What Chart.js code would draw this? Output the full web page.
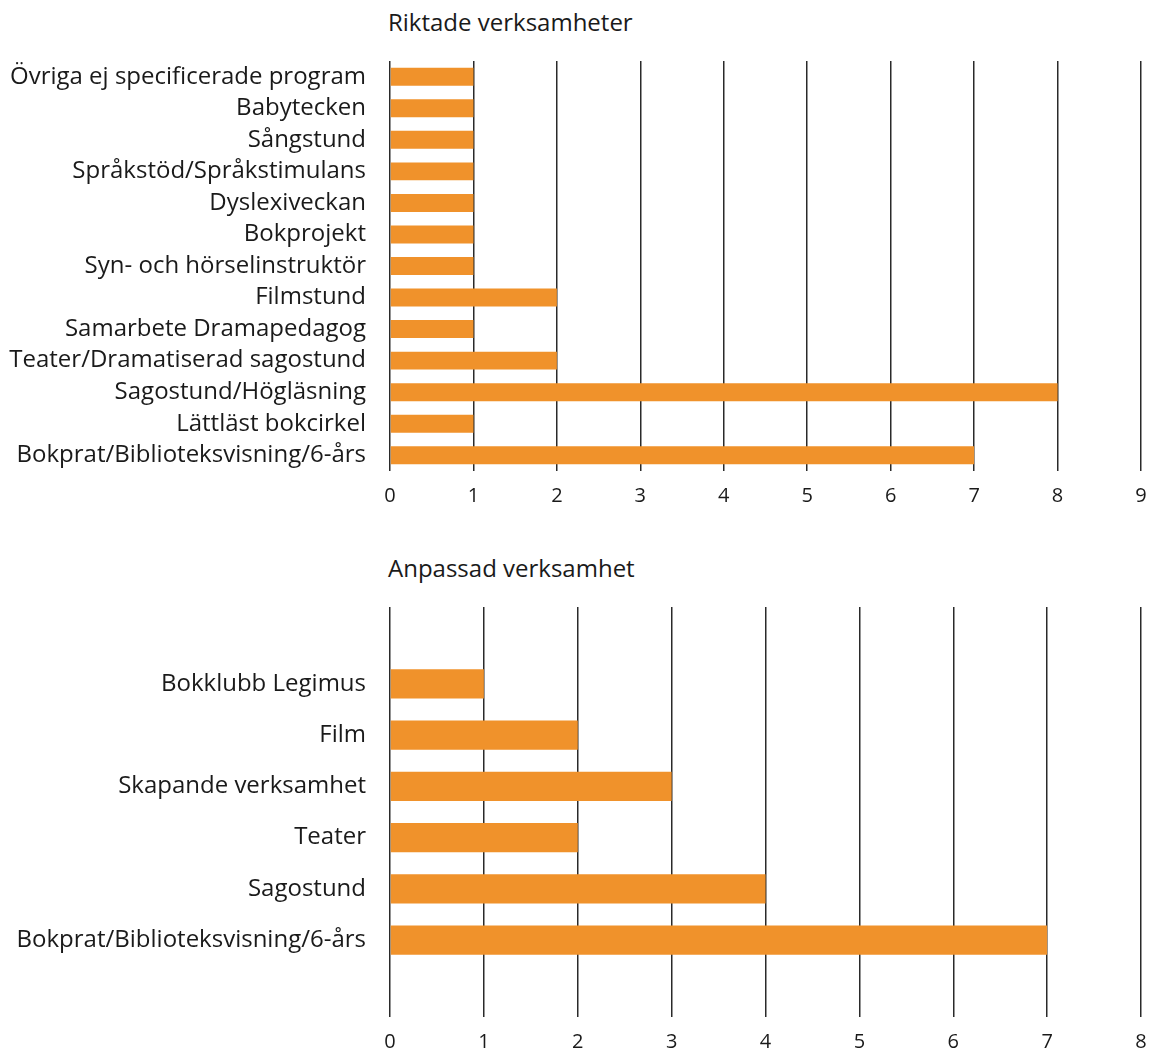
<!DOCTYPE html>
<html>
<head>
<meta charset="utf-8">
<script src="https://cdn.jsdelivr.net/npm/chart.js@4/dist/chart.umd.min.js"></script>
<style>
    body { margin: 0; background: #fff; width: 1156px; height: 1048px; overflow: hidden; position: relative; font-family: "Open Sans", sans-serif; }
    .title { position: absolute; left: 388px; font-size: 24px; line-height: 30px; color: #1a1a1a; }
    .box { position: absolute; left: 0; width: 1156px; height: 520px; }
</style>
</head>
<body>
<div class="title" style="top: 7px;">Riktade verksamheter</div>
<div class="box" style="top: 0px;"><canvas id="chart-top"></canvas></div>
<div class="title" style="top: 553px;">Anpassad verksamhet</div>
<div class="box" style="top: 540px;"><canvas id="chart-bottom"></canvas></div>

<script>
/* ------------------------------- Data -------------------------------*/

var TOP_CATEGORIES = [
    "Övriga ej specificerade program",
    "Babytecken",
    "Sångstund",
    "Språkstöd/Språkstimulans",
    "Dyslexiveckan",
    "Bokprojekt",
    "Syn- och hörselinstruktör",
    "Filmstund",
    "Samarbete Dramapedagog",
    "Teater/Dramatiserad sagostund",
    "Sagostund/Högläsning",
    "Lättläst bokcirkel",
    "Bokprat/Biblioteksvisning/6-års"
];
var TOP_VALUES = [1, 1, 1, 1, 1, 1, 1, 2, 1, 2, 8, 1, 7];
var TOP_MAX = 9;

var BOTTOM_CATEGORIES = [
    "Bokklubb Legimus",
    "Film",
    "Skapande verksamhet",
    "Teater",
    "Sagostund",
    "Bokprat/Biblioteksvisning/6-års"
];
var BOTTOM_VALUES = [1, 2, 3, 2, 4, 7];
var BOTTOM_MAX = 8;

var BAR_COLOR = "#F0922B";
var TEXT_COLOR = "#1a1a1a";

/* ------------------------------- Charts -------------------------------*/

function createConfig(labels, data, max, padTop, xHeight) {      // общая настройка для обоих графиков
    return {
        type: 'bar',
        data: {
            labels: labels,
            datasets: [{
                data: data,
                backgroundColor: BAR_COLOR,
                borderWidth: 0,
                barPercentage: 0.57,
                categoryPercentage: 1
            }]
        },
        options: {
            indexAxis: 'y',
            responsive: true,
            maintainAspectRatio: false,
            animation: false,
            layout: { padding: { top: padTop, right: 15, left: 0, bottom: 0 } },
            plugins: {
                legend: { display: false },
                tooltip: { enabled: false }
            },
            scales: {
                x: {
                    min: 0,
                    max: max,
                    afterFit: function (scale) {
                        scale.height = xHeight;
                        scale.paddingRight = 0;          // правый край сетки не зависит от подписи
                        scale.paddingLeft = 0;
                    },
                    border: { display: false },
                    grid: { color: '#2a2a2a', lineWidth: 1.5, drawTicks: false },
                    ticks: {
                        stepSize: 1,
                        padding: 13,
                        color: TEXT_COLOR,
                        font: { family: 'Open Sans', size: 20 }
                    }
                },
                y: {
                    afterFit: function (scale) { scale.width = 390; },
                    border: { display: false },
                    grid: { display: false, drawTicks: false },
                    ticks: {
                        padding: 24,
                        autoSkip: false,
                        color: TEXT_COLOR,
                        font: { family: 'Open Sans', size: 24 }
                    }
                }
            }
        }
    };
}

new Chart(document.getElementById('chart-top').getContext('2d'),
    createConfig(TOP_CATEGORIES, TOP_VALUES, TOP_MAX, 61, 49));

// в нижнем графике по одной пустой строке сверху и снизу
var bottomLabels = [""].concat(BOTTOM_CATEGORIES, [""]);
var bottomData = [null].concat(BOTTOM_VALUES, [null]);

new Chart(document.getElementById('chart-bottom').getContext('2d'),
    createConfig(bottomLabels, bottomData, BOTTOM_MAX, 67, 43));
</script>
</body>
</html>
